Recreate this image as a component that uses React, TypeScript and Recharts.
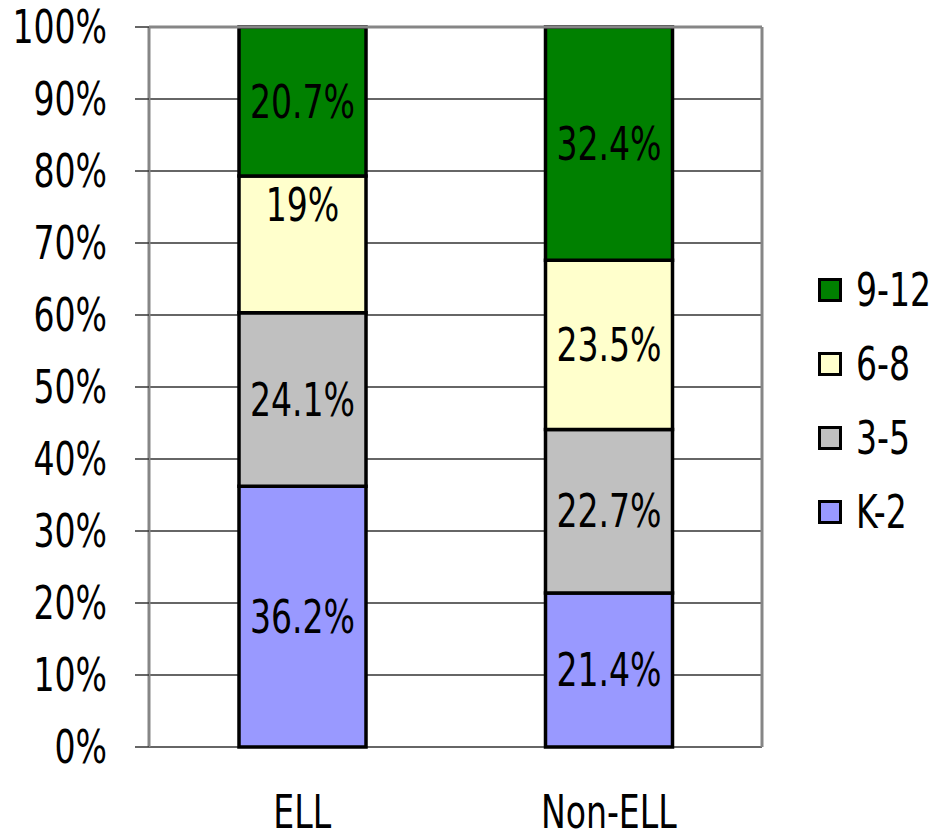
import { BarChart, Bar, XAxis, YAxis, CartesianGrid, LabelList, ReferenceLine } from "recharts";

const CATEGORIES = ["ELL", "Non-ELL"];
const K2 = [36.2, 21.4];
const G3_5 = [24.1, 22.7];
const G6_8 = [19, 23.5];
const G9_12 = [20.7, 32.4];
const Y_TICKS = [0, 10, 20, 30, 40, 50, 60, 70, 80, 90, 100];

const SERIES = [
  { key: "k2", name: "K-2", values: K2, color: "#9999FF" },
  { key: "g35", name: "3-5", values: G3_5, color: "#C0C0C0" },
  { key: "g68", name: "6-8", values: G6_8, color: "#FFFFCC" },
  { key: "g912", name: "9-12", values: G9_12, color: "#008000" },
];

const FONT = '"Liberation Sans Narrow", "Arial Narrow", "DejaVu Sans Condensed", sans-serif';
const FONT_SIZE = 46;
const SQUEEZE = 0.8; // no narrow face installed, so condense the text by hand
const AXIS_GRAY = "#868686";

const data = CATEGORIES.map((c, i) => {
  const row: Record<string, string | number> = { name: c, pos: i + 0.5 };
  for (const s of SERIES) row[s.key] = s.values[i];
  return row;
});

function NarrowText({ x, y, anchor, children, baseline = "central" }: any) {
  return (
    <g transform={`translate(${x},${y}) scale(${SQUEEZE},1)`}>
      <text
        x={0}
        y={0}
        textAnchor={anchor}
        dominantBaseline={baseline}
        fill="#000"
        fontSize={FONT_SIZE}
        fontFamily={FONT}
      >
        {children}
      </text>
    </g>
  );
}

function YTick({ x, y, payload }: any) {
  return <NarrowText x={x} y={y} anchor="end">{`${payload.value}%`}</NarrowText>;
}

function XTick({ x, y, payload }: any) {
  return (
    <NarrowText x={x} y={y + 33} anchor="middle" baseline="alphabetic">
      {payload.value}
    </NarrowText>
  );
}

function makeLabel(seriesKey: string) {
  return (props: any) => {
    const { x, y, width, height, value, index } = props;
    // the ELL 6-8 label sits high in its segment in the original
    const shift = seriesKey === "g68" && index === 0 ? -39 : 0;
    return (
      <NarrowText x={x + width / 2} y={y + height / 2 + shift} anchor="middle">
        {`${value}%`}
      </NarrowText>
    );
  };
}

export default function App() {
  return (
    <div style={{ position: "relative", width: 935, height: 832, background: "#fff", fontFamily: FONT }}>
      <style>{`body{margin:0}`}</style>
      <BarChart
        width={935}
        height={832}
        data={data}
        margin={{ top: 27, right: 173, bottom: 0, left: 9 }}
      >
        <CartesianGrid horizontal vertical={false} stroke="#333333" strokeWidth={1.5} />
        <XAxis
          xAxisId="num"
          dataKey="pos"
          type="number"
          domain={[0, 2]}
          ticks={[0, 1, 2]}
          tickFormatter={() => ""}
          tickSize={14}
          height={0}
          axisLine={{ stroke: AXIS_GRAY, strokeWidth: 3 }}
          tickLine={{ stroke: "#000", strokeWidth: 1.5 }}
        />
        <XAxis
          dataKey="name"
          axisLine={false}
          tickLine={false}
          tickMargin={42}
          height={85}
          tick={<XTick />}
        />
        <YAxis
          type="number"
          domain={[0, 100]}
          ticks={Y_TICKS}
          width={140}
          tickSize={14}
          tickMargin={28}
          axisLine={{ stroke: AXIS_GRAY, strokeWidth: 3 }}
          tickLine={{ stroke: "#333333", strokeWidth: 1.5 }}
          tick={<YTick />}
          interval={0}
        />
        <ReferenceLine y={100} stroke={AXIS_GRAY} strokeWidth={3} />
        <ReferenceLine xAxisId="num" x={2} stroke={AXIS_GRAY} strokeWidth={3} />
        {SERIES.map((s) => (
          <Bar
            key={s.key}
            dataKey={s.key}
            stackId="a"
            fill={s.color}
            stroke="#000"
            strokeWidth={3.5}
            barSize={127}
            isAnimationActive={false}
          >
            <LabelList dataKey={s.key} content={makeLabel(s.key)} />
          </Bar>
        ))}
      </BarChart>
      <div style={{ position: "absolute", left: 818, top: 253 }}>
        {[...SERIES].reverse().map((s) => (
          <div key={s.key} style={{ display: "flex", alignItems: "center", height: 74, whiteSpace: "nowrap" }}>
            <div
              style={{
                width: 18,
                height: 18,
                background: s.color,
                border: "3px solid #000",
                marginRight: 14,
                flexShrink: 0,
              }}
            />
            <span
              style={{
                fontSize: FONT_SIZE,
                color: "#000",
                lineHeight: 1,
                display: "inline-block",
                transform: `scaleX(${SQUEEZE})`,
                transformOrigin: "left center",
              }}
            >
              {s.name}
            </span>
          </div>
        ))}
      </div>
    </div>
  );
}
